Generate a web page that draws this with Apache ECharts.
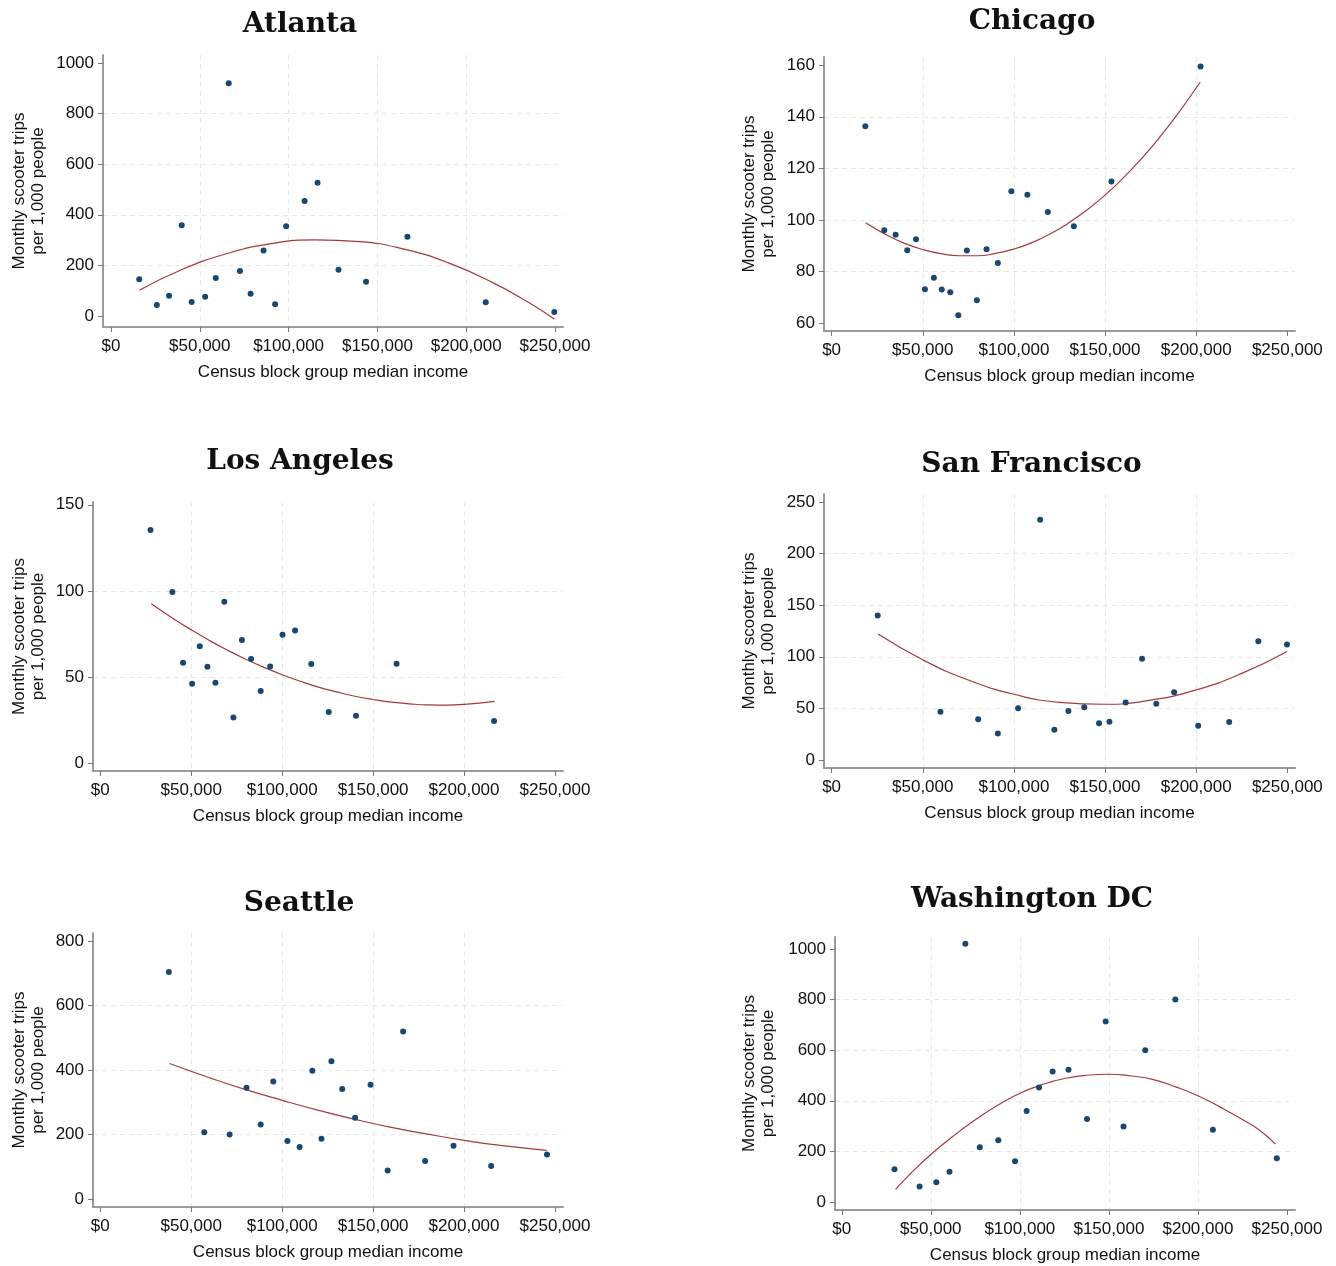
<!DOCTYPE html>
<html>
<head>
<meta charset="utf-8">
<script src="https://cdn.jsdelivr.net/npm/echarts@6/dist/echarts.min.js"></script>
<style>
  html, body { margin: 0; padding: 0; background: #fff; }
  #chart { width: 1336px; height: 1266px; }
</style>
</head>
<body>
<div id="chart"></div>
<script>
// income tick values shared by every panel
var incomeTicks = [0, 50000, 100000, 150000, 200000, 250000];

// Atlanta
var atlantaIncome = [15900, 25800, 32700, 39800, 45400, 53000, 59000, 66300, 72600, 78600, 85900, 92400, 98600, 109000, 116300, 128100, 143600, 166900, 211000, 249600];
var atlantaTrips = [145, 43, 80, 359, 55, 76, 150, 920, 178, 88, 259, 46, 355, 455, 527, 183, 135, 313, 54, 16];
var atlantaFitIncome = [16000, 40000, 65000, 90000, 115000, 140000, 165000, 190000, 215000, 235000, 249600];
var atlantaFitTrips = [102, 184, 246, 286, 301, 294, 264, 210, 132, 54, -12];
var atlantaTicks = [0, 200, 400, 600, 800, 1000];

// Chicago
var chicagoIncome = [18500, 28900, 35100, 41500, 46300, 51200, 56100, 60400, 65100, 69500, 74200, 79700, 85000, 91200, 98600, 107400, 118600, 132900, 153500, 202400];
var chicagoTrips = [136.3, 96.0, 94.2, 88.2, 92.5, 73.1, 77.6, 73.0, 71.9, 63.0, 88.1, 68.8, 88.6, 83.3, 111.1, 109.8, 103.1, 97.5, 114.9, 159.5];
var chicagoFitIncome = [18700, 30000, 40000, 50000, 60000, 70000, 80000, 90000, 100000, 110000, 120000, 130000, 140000, 150000, 160000, 170000, 180000, 190000, 202200];
var chicagoFitTrips = [98.9, 94.2, 90.9, 88.5, 86.9, 86.1, 86.1, 87.0, 88.7, 91.2, 94.6, 98.8, 103.8, 109.6, 116.3, 123.8, 132.1, 141.2, 153.5];
var chicagoTicks = [60, 80, 100, 120, 140, 160];

// Los Angeles
var laIncome = [27600, 39600, 45500, 50500, 54700, 58900, 63300, 68200, 73200, 77900, 82900, 88200, 93400, 100200, 107100, 116000, 125600, 140600, 162900, 216500];
var laTrips = [135.3, 99.3, 58.3, 46.1, 67.9, 55.9, 46.6, 93.7, 26.5, 71.4, 60.4, 41.8, 56.1, 74.5, 77.0, 57.5, 29.6, 27.5, 57.7, 24.4];
var laFitIncome = [28000, 40000, 50000, 60000, 70000, 80000, 90000, 100000, 110000, 120000, 130000, 140000, 150000, 160000, 170000, 180000, 190000, 200000, 216800];
var laFitTrips = [92.5, 84.0, 77.4, 71.2, 65.5, 60.3, 55.6, 51.3, 47.5, 44.1, 41.3, 38.8, 36.9, 35.4, 34.4, 33.8, 33.7, 34.1, 35.8];
var laTicks = [0, 50, 100, 150];

// San Francisco
var sfIncome = [25300, 59700, 80400, 91200, 102300, 114400, 122200, 129900, 138600, 146700, 152400, 161300, 170300, 178100, 187900, 201100, 218100, 234100, 249800];
var sfTrips = [139.9, 46.8, 39.4, 25.8, 50.1, 232.9, 29.4, 47.5, 51.0, 35.5, 37.1, 55.6, 98.2, 54.6, 65.6, 33.3, 36.8, 115.0, 111.8];
var sfFitIncome = [25500, 50000, 75000, 100000, 125000, 150000, 175000, 200000, 225000, 249800];
var sfFitTrips = [122.1, 97.1, 77.5, 63.7, 55.9, 54.0, 58.0, 67.9, 83.9, 105.2];
var sfTicks = [0, 50, 100, 150, 200, 250];

// Seattle
var seattleIncome = [37700, 57200, 71100, 80400, 88200, 95100, 102900, 109600, 116600, 121600, 127100, 133000, 140100, 148600, 158000, 166500, 178600, 194200, 214900, 245600];
var seattleTrips = [704, 207, 200, 345, 231, 364, 180, 161, 398, 187, 427, 341, 252, 354, 88, 519, 118, 165, 102, 138];
var seattleFitIncome = [38100, 60000, 80000, 100000, 120000, 140000, 160000, 180000, 200000, 220000, 245400];
var seattleFitTrips = [420, 376, 339, 306, 275, 247, 222, 201, 182, 166, 151];
var seattleTicks = [0, 200, 400, 600, 800];

// Washington DC
var dcIncome = [29600, 43700, 53100, 60500, 69400, 77500, 87900, 97300, 103800, 110800, 118400, 127300, 137700, 148200, 158200, 170400, 187300, 208400, 244300];
var dcTrips = [129, 61, 78, 120, 1021, 216, 244, 161, 360, 453, 516, 523, 328, 713, 298, 600, 800, 286, 173];
var dcFitIncome = [30200, 40000, 50000, 62500, 75000, 87500, 100000, 112500, 125000, 137500, 150000, 162500, 175000, 187500, 200000, 212500, 225000, 235000, 243500];
var dcFitTrips = [50, 122, 188, 260, 325, 382, 430, 464, 488, 501, 505, 498, 484, 455, 420, 375, 326, 282, 229];
var dcTicks = [0, 200, 400, 600, 800, 1000];

function pairs(xs, ys) {
  var out = [];
  for (var i = 0; i < xs.length; i++) out.push([xs[i], ys[i]]);
  return out;
}

// layout of each panel (pixel box of the axes, axis extents, title spot)
var panels = [
  {title: "Atlanta", tx: 300, ty: 24.5, inc: atlantaIncome, trips: atlantaTrips, fitInc: atlantaFitIncome, fitTrips: atlantaFitTrips, ticks: atlantaTicks,
   left: 103, top: 55, right: 563, bottom: 327, xMin: -4500, xMax: 254500, yMin: -43.5, yMax: 1031.6, split: 5, gap: 55.2},
  {title: "Chicago", tx: 1032, ty: 22, inc: chicagoIncome, trips: chicagoTrips, fitInc: chicagoFitIncome, fitTrips: chicagoFitTrips, ticks: chicagoTicks,
   left: 824, top: 57, right: 1295, bottom: 331, xMin: -4170, xMax: 254200, yMin: 56.9, yMax: 163.2, split: 5, gap: 45.7},
  {title: "Los Angeles", tx: 300, ty: 462, inc: laIncome, trips: laTrips, fitInc: laFitIncome, fitTrips: laFitTrips, ticks: laTicks,
   left: 93, top: 502, right: 563, bottom: 771, xMin: -4000, xMax: 254400, yMin: -4.6, yMax: 151.6, split: 3, gap: 45.2},
  {title: "San Francisco", tx: 1031.5, ty: 464.5, inc: sfIncome, trips: sfTrips, fitInc: sfFitIncome, fitTrips: sfFitTrips, ticks: sfTicks,
   left: 824, top: 494, right: 1295, bottom: 768, xMin: -4170, xMax: 254200, yMin: -7.75, yMax: 257.75, split: 5, gap: 45.7},
  {title: "Seattle", tx: 299, ty: 903.5, inc: seattleIncome, trips: seattleTrips, fitInc: seattleFitIncome, fitTrips: seattleFitTrips, ticks: seattleTicks,
   left: 93, top: 933, right: 563, bottom: 1207, xMin: -4000, xMax: 254400, yMin: -24.8, yMax: 824.8, split: 5, gap: 45.2},
  {title: "Washington DC", tx: 1032, ty: 900, inc: dcIncome, trips: dcTrips, fitInc: dcFitIncome, fitTrips: dcFitTrips, ticks: dcTicks,
   left: 835, top: 937, right: 1295, bottom: 1210, xMin: -3800, xMax: 254500, yMin: -31.6, yMax: 1047.4, split: 5, gap: 56.7}
];

var textFont = "'Liberation Sans', Arial, sans-serif";
var grids = [], xAxes = [], yAxes = [], series = [], graphics = [];

panels.forEach(function (p, i) {
  grids.push({
    left: p.left, top: p.top, width: p.right - p.left, height: p.bottom - p.top,
    containLabel: false, outerBoundsMode: "none"
  });
  xAxes.push({
    type: "value", gridIndex: i, min: p.xMin, max: p.xMax, splitNumber: 5,
    name: "Census block group median income", nameLocation: "middle", nameGap: 37,
    nameTextStyle: {fontFamily: textFont, fontSize: 17, color: "#111"},
    axisLine: {show: true, onZero: false, lineStyle: {color: "#9a9a9a", width: 2}},
    axisTick: {show: true, length: 5, customValues: incomeTicks, lineStyle: {color: "#777", width: 1}},
    axisLabel: {
      customValues: incomeTicks, margin: 11, fontFamily: textFont, fontSize: 17, color: "#111",
      formatter: function (v) { return "$" + Number(v).toLocaleString("en-US"); }
    },
    splitLine: {show: true, showMinLine: false, showMaxLine: false, lineStyle: {color: "#e8e8e8", width: 1, type: [5, 4]}}
  });
  yAxes.push({
    type: "value", gridIndex: i, min: p.yMin, max: p.yMax, splitNumber: p.split,
    name: "Monthly scooter trips\nper 1,000 people", nameLocation: "middle", nameRotate: 90, nameGap: p.gap,
    nameTextStyle: {fontFamily: textFont, fontSize: 17, lineHeight: 19, color: "#111", align: "center"},
    axisLine: {show: true, onZero: false, lineStyle: {color: "#9a9a9a", width: 2}},
    axisTick: {show: true, length: 5, customValues: p.ticks, lineStyle: {color: "#777", width: 1}},
    axisLabel: {
      customValues: p.ticks, margin: 9, fontFamily: textFont, fontSize: 17, color: "#111",
      formatter: function (v) { return String(v); }
    },
    splitLine: {show: true, showMinLine: false, showMaxLine: false, lineStyle: {color: "#e8e8e8", width: 1, type: [5, 4]}}
  });
  series.push({
    type: "scatter", xAxisIndex: i, yAxisIndex: i, symbolSize: 6,
    itemStyle: {color: "#1a476f", opacity: 1}, data: pairs(p.inc, p.trips), z: 3
  });
  series.push({
    type: "line", xAxisIndex: i, yAxisIndex: i, smooth: true, showSymbol: false,
    lineStyle: {color: "#a23a40", width: 1.2}, data: pairs(p.fitInc, p.fitTrips), z: 2
  });
  graphics.push({
    type: "text", x: p.tx, y: p.ty,
    style: {text: p.title, align: "center", verticalAlign: "middle", font: "bold 28px 'DejaVu Serif', serif", fill: "#111"}
  });
});

var chart = echarts.init(document.getElementById("chart"), null, {renderer: "canvas"});
chart.setOption({
  backgroundColor: "#fff",
  animation: false,
  grid: grids,
  xAxis: xAxes,
  yAxis: yAxes,
  series: series,
  graphic: graphics
});
</script>
</body>
</html>
